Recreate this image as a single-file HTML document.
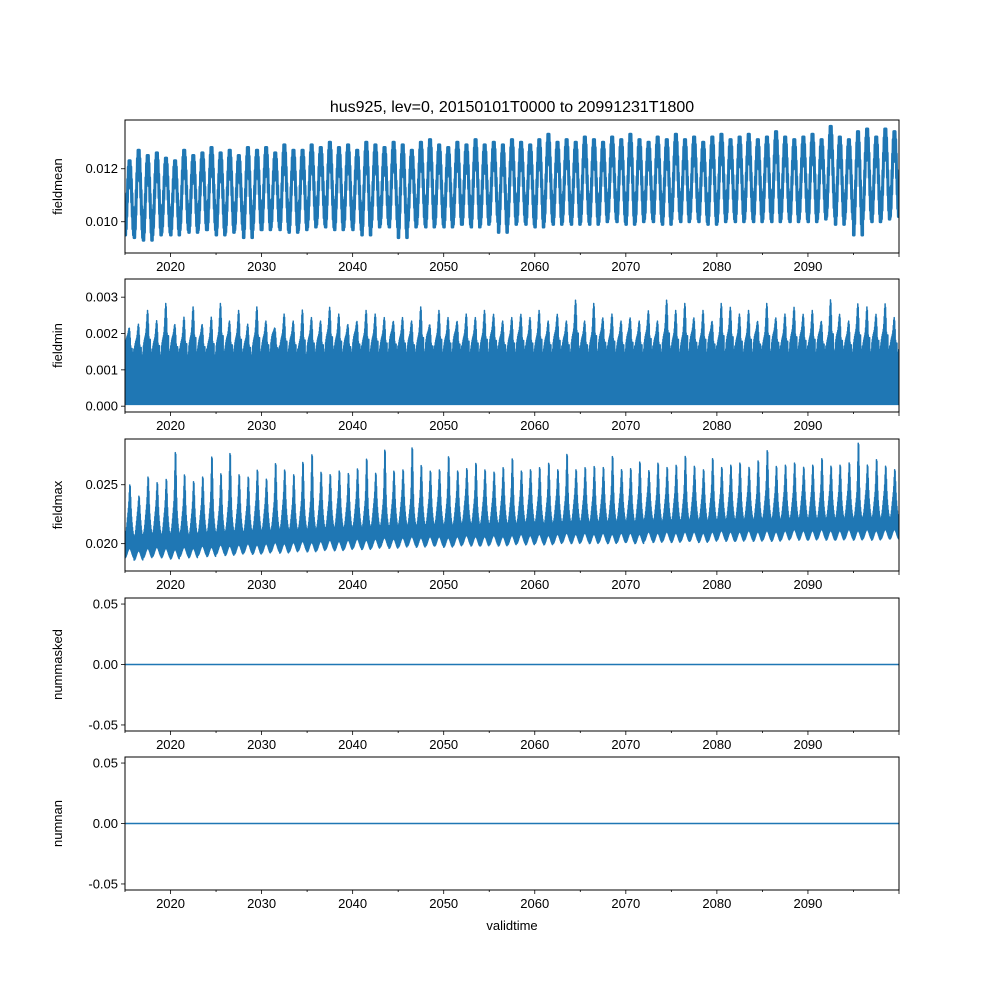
<!DOCTYPE html>
<html><head><meta charset="utf-8"><style>
body{margin:0;background:#fff;}
svg{display:block;font-family:"Liberation Sans","DejaVu Sans",sans-serif;}
</style></head><body>
<svg id="fig" width="1000" height="1000" viewBox="0 0 1000 1000">
<rect width="1000" height="1000" fill="#fff"/>
<text x="512" y="112" font-size="16" text-anchor="middle">hus925, lev=0, 20150101T0000 to 20991231T1800</text>
<text x="512" y="930" font-size="13" text-anchor="middle">validtime</text>
</svg>
<script>
const xTicks=[2020,2030,2040,2050,2060,2070,2080,2090];
const meanPeak=[0.0124,0.0128,0.0126,0.0127,0.0125,0.0124,0.0128,0.0126,0.0127,0.0129,0.0127,0.0128,0.0126,0.0129,0.0128,0.0129,0.0127,0.0130,0.0128,0.0128,0.0130,0.0129,0.0131,0.0129,0.0130,0.0128,0.0131,0.0130,0.0129,0.0131,0.0130,0.0128,0.0131,0.0132,0.0130,0.0129,0.0131,0.0130,0.0132,0.0130,0.0131,0.0130,0.0132,0.0131,0.0130,0.0132,0.0134,0.0131,0.0132,0.0131,0.0133,0.0132,0.0131,0.0133,0.0132,0.0134,0.0132,0.0131,0.0133,0.0132,0.0134,0.0132,0.0133,0.0131,0.0133,0.0134,0.0132,0.0133,0.0134,0.0132,0.0133,0.0135,0.0133,0.0132,0.0133,0.0134,0.0132,0.0137,0.0133,0.0132,0.0135,0.0136,0.0133,0.0136,0.0135];
const meanTrough=[0.0094,0.0093,0.0092,0.0094,0.0095,0.0094,0.0096,0.0095,0.0096,0.0096,0.0094,0.0095,0.0096,0.0093,0.0096,0.0096,0.0097,0.0096,0.0095,0.0096,0.0097,0.0098,0.0097,0.0096,0.0097,0.0096,0.0094,0.0097,0.0098,0.0097,0.0093,0.0097,0.0098,0.0097,0.0098,0.0097,0.0098,0.0098,0.0097,0.0098,0.0099,0.0095,0.0098,0.0099,0.0098,0.0097,0.0099,0.0098,0.0099,0.0098,0.0099,0.0098,0.0099,0.0100,0.0099,0.0098,0.0099,0.0100,0.0099,0.0098,0.0100,0.0099,0.0100,0.0099,0.0098,0.0099,0.0100,0.0099,0.0100,0.0099,0.0100,0.0099,0.0100,0.0099,0.0100,0.0099,0.0100,0.0101,0.0098,0.0100,0.0094,0.0100,0.0099,0.0100,0.0101];
const minBase=[0.0019,0.0018,0.0019,0.0018,0.0019,0.0019,0.0018,0.0019,0.0019,0.0018,0.0019,0.0019,0.0019,0.0018,0.0019,0.0019,0.0020,0.0019,0.0019,0.0018,0.0019,0.0019,0.0020,0.0019,0.0019,0.0020,0.0019,0.0019,0.0019,0.0020,0.0019,0.0019,0.0019,0.0020,0.0019,0.0019,0.0020,0.0019,0.0019,0.0019,0.0020,0.0019,0.0019,0.0020,0.0019,0.0019,0.0019,0.0020,0.0019,0.0020,0.0019,0.0019,0.0020,0.0019,0.0019,0.0020,0.0019,0.0020,0.0019,0.0020,0.0019,0.0019,0.0020,0.0019,0.0020,0.0019,0.0020,0.0019,0.0019,0.0020,0.0019,0.0020,0.0019,0.0020,0.0020,0.0019,0.0020,0.0019,0.0020,0.0019,0.0020,0.0019,0.0020,0.0020,0.0019];
const minPeak=[0.0024,0.0025,0.0029,0.0026,0.0031,0.0025,0.0027,0.0030,0.0025,0.0027,0.0031,0.0026,0.0029,0.0025,0.0030,0.0026,0.0024,0.0028,0.0026,0.0029,0.0027,0.0026,0.0030,0.0028,0.0025,0.0026,0.0029,0.0028,0.0027,0.0026,0.0027,0.0026,0.0030,0.0025,0.0029,0.0027,0.0026,0.0028,0.0027,0.0029,0.0028,0.0026,0.0027,0.0028,0.0027,0.0029,0.0026,0.0028,0.0026,0.0032,0.0026,0.0031,0.0027,0.0028,0.0026,0.0027,0.0026,0.0029,0.0026,0.0032,0.0029,0.0031,0.0027,0.0029,0.0026,0.0031,0.0030,0.0028,0.0029,0.0026,0.0031,0.0027,0.0028,0.0030,0.0028,0.0029,0.0026,0.0032,0.0028,0.0026,0.0031,0.0030,0.0028,0.0031,0.0027];
const maxBase=[0.0188,0.0186,0.0188,0.0189,0.0188,0.0187,0.0189,0.0188,0.0190,0.0189,0.0191,0.0190,0.0191,0.0192,0.0191,0.0192,0.0193,0.0192,0.0193,0.0194,0.0193,0.0194,0.0195,0.0194,0.0195,0.0196,0.0195,0.0196,0.0197,0.0196,0.0197,0.0198,0.0197,0.0198,0.0198,0.0197,0.0198,0.0199,0.0198,0.0198,0.0199,0.0198,0.0199,0.0200,0.0199,0.0200,0.0199,0.0200,0.0201,0.0200,0.0201,0.0200,0.0201,0.0200,0.0201,0.0201,0.0200,0.0202,0.0201,0.0202,0.0201,0.0202,0.0202,0.0201,0.0202,0.0203,0.0202,0.0202,0.0203,0.0202,0.0203,0.0202,0.0203,0.0204,0.0203,0.0203,0.0204,0.0203,0.0203,0.0204,0.0203,0.0204,0.0203,0.0204,0.0204];
const maxBand=[0.0225,0.0222,0.0228,0.0226,0.0225,0.0230,0.0226,0.0224,0.0227,0.0229,0.0226,0.0230,0.0228,0.0226,0.0231,0.0228,0.0229,0.0232,0.0227,0.0230,0.0229,0.0231,0.0230,0.0233,0.0229,0.0232,0.0230,0.0233,0.0231,0.0232,0.0234,0.0231,0.0233,0.0232,0.0234,0.0232,0.0233,0.0235,0.0232,0.0234,0.0233,0.0235,0.0233,0.0234,0.0236,0.0234,0.0233,0.0235,0.0234,0.0236,0.0235,0.0234,0.0236,0.0235,0.0237,0.0235,0.0236,0.0238,0.0235,0.0236,0.0237,0.0236,0.0238,0.0236,0.0237,0.0236,0.0238,0.0237,0.0238,0.0236,0.0239,0.0237,0.0238,0.0237,0.0239,0.0238,0.0237,0.0239,0.0238,0.0239,0.0237,0.0240,0.0238,0.0239,0.0238];
const maxPeak=[0.0243,0.0233,0.0250,0.0245,0.0248,0.0272,0.0252,0.0246,0.0250,0.0268,0.0253,0.0271,0.0252,0.0250,0.0256,0.0248,0.0262,0.0256,0.0252,0.0263,0.0270,0.0254,0.0252,0.0255,0.0253,0.0257,0.0266,0.0253,0.0274,0.0255,0.0256,0.0276,0.0260,0.0255,0.0256,0.0268,0.0255,0.0257,0.0262,0.0256,0.0254,0.0258,0.0266,0.0255,0.0256,0.0258,0.0262,0.0256,0.0270,0.0256,0.0258,0.0259,0.0258,0.0268,0.0256,0.0257,0.0263,0.0255,0.0262,0.0258,0.0260,0.0268,0.0259,0.0256,0.0266,0.0258,0.0260,0.0262,0.0258,0.0264,0.0273,0.0259,0.0260,0.0262,0.0258,0.0260,0.0266,0.0259,0.0260,0.0262,0.0280,0.0260,0.0265,0.0259,0.0256];
const panels=[
 {name:'fieldmean',top:120,bot:253,ymin:0.00882,ymax:0.01384,ticks:[0.010,0.012],fmt:3},
 {name:'fieldmin',top:279,bot:412,ymin:-0.00016,ymax:0.00350,ticks:[0.000,0.001,0.002,0.003],fmt:3},
 {name:'fieldmax',top:439,bot:571,ymin:0.01768,ymax:0.02888,ticks:[0.020,0.025],fmt:3},
 {name:'nummasked',top:598,bot:731,ymin:-0.055,ymax:0.055,ticks:[-0.05,0.00,0.05],fmt:2},
 {name:'numnan',top:757,bot:890,ymin:-0.055,ymax:0.055,ticks:[-0.05,0.00,0.05],fmt:2}];
const NS='http://www.w3.org/2000/svg';
const svg=document.getElementById('fig');
const L=125,R=899,X0=2015,X1=2100;
const xs=v=>L+(v-X0)/(X1-X0)*(R-L);
function mk(tag,attrs,parent){const e=document.createElementNS(NS,tag);for(const k in attrs)e.setAttribute(k,attrs[k]);(parent||svg).appendChild(e);return e;}
panels.forEach((p,pi)=>{
 const ys=v=>p.bot-(v-p.ymin)/(p.ymax-p.ymin)*(p.bot-p.top);
 const g=mk('g',{});
 
 
 const clipId='c'+pi;
 const cp=mk('clipPath',{id:clipId},g);mk('rect',{x:L,y:p.top,width:R-L,height:p.bot-p.top},cp);
 let d='';
 const nYears=X1-X0;
 if(pi===0){
  for(let i=0;i<nYears;i++){const N=30;for(let k=0;k<=N;k++){const t=k/N;const s=0.5-0.5*Math.cos(2*Math.PI*t);const v=meanTrough[i]+0.0002+(meanPeak[i]-meanTrough[i]-0.0004)*s+(k%2?0.0003:-0.0003);d+=(d?'L':'M')+xs(X0+i+t).toFixed(2)+','+ys(Math.max(meanTrough[i]+0.0001,Math.min(meanPeak[i]-0.0001,v))).toFixed(2);}}
 }else if(pi===1){
  for(let i=0;i<nYears;i++){const N=40;for(let k=0;k<N;k++){const t=k/N;const s=Math.exp(-Math.pow((t-0.5)/0.15,2));const s2=0.6*Math.exp(-Math.pow((t-0.75)/0.06,2));const hi=minBase[i]*(0.85+0.15*Math.sin(2*Math.PI*t))+(minPeak[i]-minBase[i])*Math.max(s,s2);const v=k%2?hi:0.00005;d+=(d?'L':'M')+xs(X0+i+t).toFixed(2)+','+ys(v).toFixed(2);}}
 }else if(pi===2){
  for(let i=0;i<nYears;i++){const N=40;for(let k=0;k<N;k++){const t=k/N;const s=Math.exp(-Math.pow((t-0.55)/0.1,2));const seas=0.5-0.5*Math.cos(2*Math.PI*t);const lo=maxBase[i]+0.0008*seas;const hi=lo+(maxBand[i]-maxBase[i])*(0.5+0.5*seas)+(maxPeak[i]-maxBand[i])*s;const v=k%2?hi:lo;d+=(d?'L':'M')+xs(X0+i+t).toFixed(2)+','+ys(v).toFixed(2);}}
 }else{
  d='M'+L+','+ys(0)+'L'+R+','+ys(0);
 }
 const line=mk('path',{d:d,fill:'none',stroke:'#1f77b4','stroke-width':pi===0?3:1.5,'stroke-linejoin':'round','clip-path':'url(#'+clipId+')'},g);
 
 
 const frame=mk('rect',{x:L,y:p.top,width:R-L,height:p.bot-p.top,fill:'none',stroke:'#000','stroke-width':1},g);
 
 
 for(let yr=X0;yr<=X1;yr+=5){mk('line',{x1:xs(yr),x2:xs(yr),y1:p.bot,y2:p.bot+(yr%10===0?4:2),stroke:'#000','stroke-width':0.8},g);}
 xTicks.forEach(yr=>{const t=mk('text',{x:xs(yr),y:p.bot+18,'font-size':13,'text-anchor':'middle'},g);t.textContent=yr;
  
  });
 p.ticks.forEach(v=>{const y=ys(v);mk('line',{x1:L-4,x2:L,y1:y,y2:y,stroke:'#000','stroke-width':0.8},g);
  const t=mk('text',{x:L-7,y:y+4.5,'font-size':13,'text-anchor':'end'},g);t.textContent=v.toFixed(p.fmt);
  
  });
 const yl=mk('text',{x:0,y:0,'font-size':13,'text-anchor':'middle',transform:'translate(62,'+((p.top+p.bot)/2)+') rotate(-90)'},g);yl.textContent=p.name;
 
 
});
</script>
</body></html>
